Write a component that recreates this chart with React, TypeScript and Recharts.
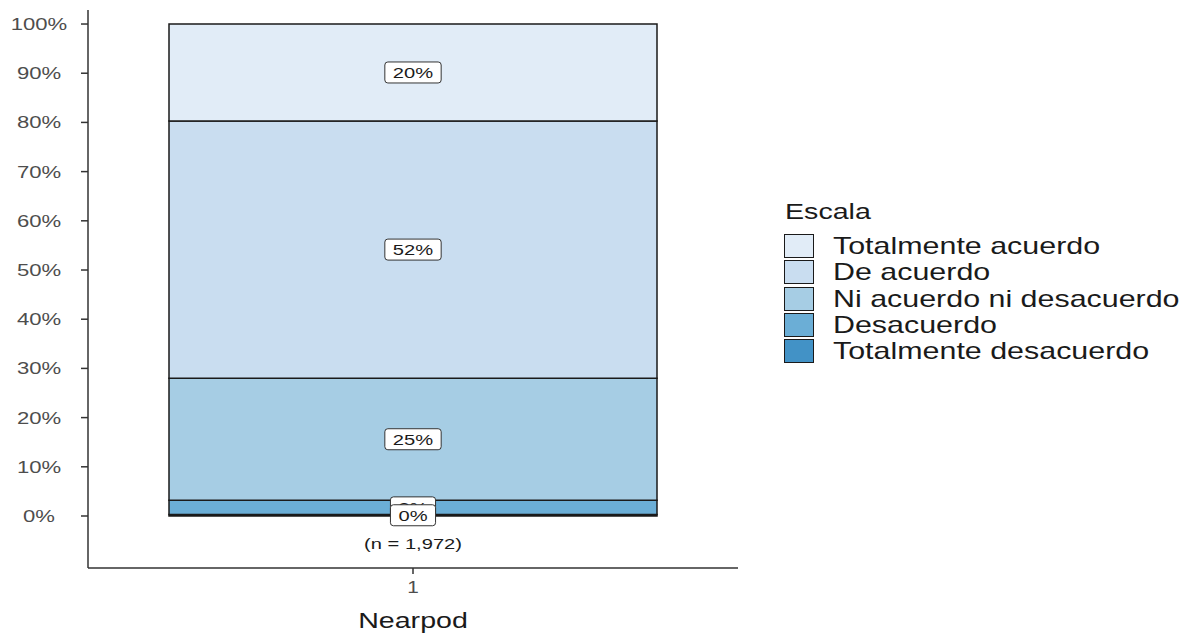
import React from "react";
import { BarChart, Bar, XAxis, YAxis, ReferenceDot } from "recharts";

// bottom to top, same order as the stack
const categories = ["1"];
const seriesNames = [
  "Totalmente desacuerdo",
  "Desacuerdo",
  "Ni acuerdo ni desacuerdo",
  "De acuerdo",
  "Totalmente acuerdo",
];
const seriesValues = [0.3, 2.9, 24.8, 52.3, 19.7];
const seriesColors = ["#4292c6", "#6baed6", "#a6cde4", "#c9ddf0", "#e1ecf7"];
const yTicks = [0, 10, 20, 30, 40, 50, 60, 70, 80, 90, 100];
const xTitle = "Nearpod";
const legendTitle = "Escala";
const sampleSize = "1,972";

const FONT = "'Liberation Sans', Arial, sans-serif";
const SX = 1.3; // the reference text is stretched horizontally

const data = categories.map((cat) => {
  const row: Record<string, string | number> = { cat };
  seriesValues.forEach((v, i) => {
    row["s" + i] = v;
  });
  return row;
});

// midpoints of each stacked segment, for the boxed labels
const mids: number[] = [];
let acc = 0;
seriesValues.forEach((v) => {
  mids.push(acc + v / 2);
  acc += v;
});

function YTick(props: any) {
  const { x, y, payload } = props;
  return (
    <text
      transform={`translate(${x - 40}, ${y + 6}) scale(${SX}, 1)`}
      textAnchor="middle"
      fontSize={17}
      fontFamily={FONT}
      fill="#4d4d4d"
    >
      {payload.value}%
    </text>
  );
}

function XTick(props: any) {
  const { x, y, payload } = props;
  return (
    <text
      transform={`translate(${x}, ${y + 17}) scale(${SX}, 1)`}
      textAnchor="middle"
      fontSize={16}
      fontFamily={FONT}
      fill="#4d4d4d"
    >
      {payload.value}
    </text>
  );
}

function boxLabel(text: string) {
  return (props: any) => {
    const vb = props.viewBox || {};
    const cx = vb.x + (vb.width || 0) / 2;
    const cy = vb.y + (vb.height || 0) / 2;
    const digits = text.length - 1;
    const w = (digits * 0.556 + 0.889) * 15.5 * SX + 16;
    return (
      <g>
        <rect
          x={cx - w / 2}
          y={cy - 10.5}
          width={w}
          height={21}
          rx={3}
          fill="#ffffff"
          stroke="#333333"
          strokeWidth={1}
        />
        <text
          transform={`translate(${cx}, ${cy + 5.5}) scale(${SX}, 1)`}
          textAnchor="middle"
          fontSize={15.5}
          fontFamily={FONT}
          fill="#1a1a1a"
        >
          {text}
        </text>
      </g>
    );
  };
}

function nLabel(props: any) {
  const vb = props.viewBox || {};
  const cx = vb.x + (vb.width || 0) / 2;
  const cy = vb.y + (vb.height || 0) / 2;
  return (
    <text
      transform={`translate(${cx}, ${cy + 5.5}) scale(${SX}, 1)`}
      textAnchor="middle"
      fontSize={15.5}
      fontFamily={FONT}
      fill="#1a1a1a"
    >
      (n = {sampleSize})
    </text>
  );
}

function xTitleLabel(props: any) {
  const vb = props.viewBox || {};
  return (
    <text
      transform={`translate(${vb.x + vb.width / 2}, ${vb.y + 60}) scale(${SX}, 1)`}
      textAnchor="middle"
      fontSize={22}
      fontFamily={FONT}
      fill="#1a1a1a"
    >
      {xTitle}
    </text>
  );
}

function Legend() {
  const order = seriesNames.map((_, i) => i).reverse();
  return (
    <div style={{ position: "absolute", left: 0, top: 0, fontFamily: FONT, color: "#1a1a1a" }}>
      <div
        style={{
          position: "absolute",
          left: 785,
          top: 199,
          fontSize: 22,
          lineHeight: "26px",
          whiteSpace: "nowrap",
          transform: `scaleX(${SX})`,
          transformOrigin: "left center",
        }}
      >
        {legendTitle}
      </div>
      {order.map((i, k) => (
        <React.Fragment key={seriesNames[i]}>
          <div
            style={{
              position: "absolute",
              left: 784,
              top: 234 + k * 26.3,
              width: 28,
              height: 22,
              background: seriesColors[i],
              border: "1.5px solid #1a1a1a",
            }}
          />
          <div
            style={{
              position: "absolute",
              left: 833,
              top: 232 + k * 26.3,
              fontSize: 23.4,
              lineHeight: "28px",
              whiteSpace: "nowrap",
              transform: `scaleX(${SX})`,
              transformOrigin: "left center",
            }}
          >
            {seriesNames[i]}
          </div>
        </React.Fragment>
      ))}
    </div>
  );
}

export default function App() {
  return (
    <div style={{ position: "absolute", left: 0, top: 0, width: 1184, height: 635, background: "#fff" }}>
      <BarChart
        width={1184}
        height={635}
        data={data}
        margin={{ top: 10, right: 446, bottom: 0, left: 8 }}
      >
        <XAxis
          dataKey="cat"
          height={67}
          tickSize={6}
          tickLine={{ stroke: "#333333", strokeWidth: 1.5 }}
          axisLine={{ stroke: "#333333", strokeWidth: 1.5 }}
          tick={<XTick />}
          label={{ content: xTitleLabel }}
        />
        <YAxis
          width={80}
          type="number"
          domain={[-10.57, 102.85]}
          allowDataOverflow
          ticks={yTicks}
          interval={0}
          tickSize={7}
          tickLine={{ stroke: "#333333", strokeWidth: 1.5 }}
          axisLine={{ stroke: "#333333", strokeWidth: 1.5 }}
          tick={<YTick />}
        />
        {seriesNames.map((name, i) => (
          <Bar
            key={name}
            name={name}
            dataKey={"s" + i}
            stackId="a"
            fill={seriesColors[i]}
            stroke="#1a1a1a"
            strokeWidth={1.5}
            barSize={488}
            isAnimationActive={false}
          />
        ))}
        {seriesNames
          .map((_, i) => i)
          .reverse()
          .map((i) => (
            <ReferenceDot
              key={"lbl" + i}
              x={categories[0]}
              y={mids[i]}
              r={0}
              fill="none"
              stroke="none"
              label={{ content: boxLabel(Math.round(seriesValues[i]) + "%") }}
            />
          ))}
        <ReferenceDot
          x={categories[0]}
          y={-5.5}
          r={0}
          fill="none"
          stroke="none"
          label={{ content: nLabel }}
        />
      </BarChart>
      <Legend />
    </div>
  );
}
